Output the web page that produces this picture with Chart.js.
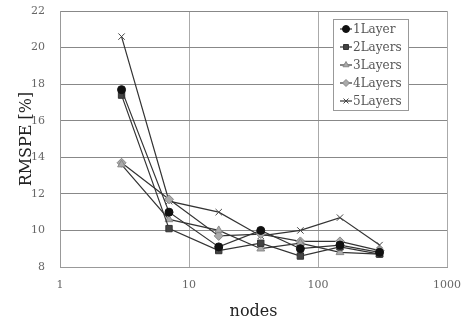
<!DOCTYPE html>
<html>
<head>
<meta charset="utf-8">
<script src="https://cdn.jsdelivr.net/npm/chart.js@4/dist/chart.umd.min.js"></script>
<style>
    html, body { margin: 0; padding: 0; background: #fff; }
    #wrap { width: 463px; height: 324px; }
</style>
</head>
<body>
<div id="wrap"><canvas id="rmspeChart" width="463" height="324"></canvas></div>
<script>
    const nodes = [3, 7, 17, 36, 73, 148, 300];
    const layer1 = [17.7, 11.0, 9.1, 10.0, 9.0, 9.2, 8.8];
    const layer2 = [17.4, 10.1, 8.9, 9.3, 8.6, 9.1, 8.7];
    const layer3 = [13.6, 10.6, 10.0, 9.0, 9.3, 8.8, 8.7];
    const layer4 = [13.7, 11.7, 9.7, 9.8, 9.4, 9.4, 8.9];
    const layer5 = [20.6, 11.6, 11.0, 9.7, 10.0, 10.7, 9.2];
    const seriesNames = ["1Layer", "2Layers", "3Layers", "4Layers", "5Layers"];
    const xTicks = [1, 10, 100, 1000];
    const yTicks = [8, 10, 12, 14, 16, 18, 20, 22];

    const serif = "'DejaVu Serif', 'Liberation Serif', serif";

    const markerStyles = [
        { pointStyle: "circle", radius: 4, bg: "#111", border: "#111" },
        { pointStyle: "rect", radius: 4.5, bg: "#444", border: "#333" },
        { pointStyle: "triangle", radius: 4.5, bg: "#aaa", border: "#888" },
        { pointStyle: "rectRot", radius: 4.5, bg: "#aaa", border: "#888" },
        { pointStyle: "crossRot", radius: 4.5, bg: "#444", border: "#444" }
    ];

    function toPoints(values) {
        return nodes.map((n, i) => ({ x: n, y: values[i] }));
    }

    const datasets = [layer1, layer2, layer3, layer4, layer5].map((values, i) => ({
        label: seriesNames[i],
        data: toPoints(values),
        borderColor: "#333",
        borderWidth: 1.2,
        pointStyle: markerStyles[i].pointStyle,
        pointRadius: markerStyles[i].radius,
        pointBackgroundColor: markerStyles[i].bg,
        pointBorderColor: markerStyles[i].border,
        pointBorderWidth: 1,
        tension: 0
    }));

    // legend box drawn inside the plot area (top right), like the original
    const innerLegend = {
        id: "innerLegend",
        afterDraw(chart) {
            const ctx = chart.ctx;
            const boxX = 333, boxY = 19, boxW = 75, boxH = 91, rowH = 18;
            ctx.save();
            ctx.fillStyle = "#fff";
            ctx.fillRect(boxX, boxY, boxW, boxH);
            ctx.strokeStyle = "#999";
            ctx.lineWidth = 1;
            ctx.strokeRect(boxX + 0.5, boxY + 0.5, boxW, boxH);
            ctx.font = "12px " + serif;
            ctx.textBaseline = "middle";
            seriesNames.forEach((name, i) => {
                const y = boxY + 10 + i * rowH;
                ctx.strokeStyle = "#333";
                ctx.lineWidth = 1.2;
                ctx.beginPath();
                ctx.moveTo(340, y);
                ctx.lineTo(352, y);
                ctx.stroke();
                ctx.fillStyle = markerStyles[i].bg;
                ctx.strokeStyle = markerStyles[i].border;
                ctx.lineWidth = 1;
                Chart.helpers.drawPoint(ctx, {
                    pointStyle: markerStyles[i].pointStyle,
                    radius: 3.5,
                    rotation: 0,
                    borderWidth: 1
                }, 346, y);
                ctx.fillStyle = "#555";
                ctx.fillText(name, 353, y + 1);
            });
            ctx.restore();
        }
    };

    new Chart(document.getElementById("rmspeChart"), {
        type: "line",
        data: { datasets },
        options: {
            responsive: false,
            animation: false,
            layout: { padding: { top: 11, right: 16, left: 0, bottom: 0 } },
            plugins: {
                legend: { display: false },
                tooltip: { enabled: false }
            },
            scales: {
                x: {
                    type: "logarithmic",
                    min: 1,
                    max: 1000,
                    afterBuildTicks(scale) {
                        scale.ticks = xTicks.map((v) => ({ value: v }));
                    },
                    afterFit(scale) {
                        scale.height = 57;
                        scale.paddingLeft = 0;
                        scale.paddingRight = 0;
                    },
                    ticks: {
                        color: "#666",
                        font: { family: serif, size: 11 },
                        padding: 12,
                        maxRotation: 0,
                        autoSkip: false,
                        callback: (v) => String(v)
                    },
                    grid: { color: "#aaa", lineWidth: 1, drawTicks: false },
                    border: { color: "#999" },
                    title: {
                        display: true,
                        text: "nodes",
                        color: "#222",
                        font: { family: serif, size: 16 },
                        padding: { top: 0, bottom: 2.4 }
                    }
                },
                y: {
                    min: 8,
                    max: 22,
                    afterBuildTicks(scale) {
                        scale.ticks = yTicks.map((v) => ({ value: v }));
                    },
                    afterFit(scale) {
                        scale.width = 60;
                        scale.paddingTop = 0;
                        scale.paddingBottom = 0;
                    },
                    ticks: {
                        color: "#666",
                        font: { family: serif, size: 11 },
                        padding: 15
                    },
                    grid: { color: "#888", lineWidth: 1, drawTicks: false },
                    border: { color: "#999" },
                    title: {
                        display: true,
                        text: "RMSPE [%]",
                        color: "#222",
                        font: { family: serif, size: 16 },
                        padding: { top: 17.4, bottom: 0 }
                    }
                }
            }
        },
        plugins: [innerLegend]
    });
</script>
</body>
</html>
